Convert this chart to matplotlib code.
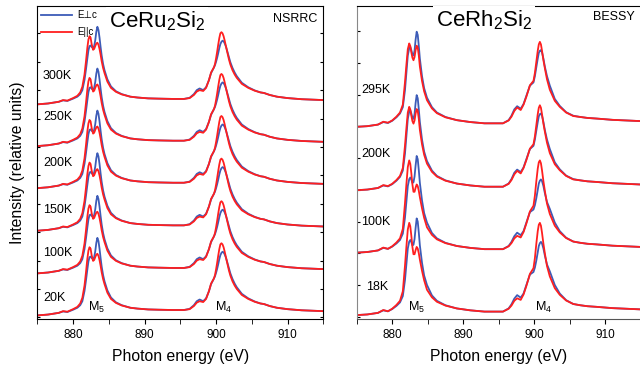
import matplotlib
matplotlib.use('Agg')
import matplotlib.pyplot as plt
from matplotlib.ticker import MultipleLocator

plt.rcParams['font.family'] = ['Liberation Sans', 'DejaVu Sans']
plt.rcParams['mathtext.fontset'] = 'custom'
plt.rcParams['mathtext.rm'] = 'Liberation Sans'
plt.rcParams['mathtext.it'] = 'Liberation Sans:italic'

# --- CeRu2Si2 (NSRRC) ---
ru_temps = ['300K', '250K', '200K', '150K', '100K', '20K']
ru_offsets = [7.50, 6.03, 4.55, 3.05, 1.55, 0.07]
ru_label_y = [8.50, 7.05, 5.43, 3.78, 2.28, 0.67]

ru_energy = [875, 876.5, 878, 878.6, 879.2, 880, 880.6, 881.0, 881.3,
             881.6, 881.8, 882.0, 882.15, 882.3, 882.45, 882.6, 882.8, 882.95, 883.1,
             883.25, 883.4, 883.55, 883.7, 883.85, 884.0, 884.2, 884.4, 884.8, 885.3,
             886, 886.8, 888, 889, 890.5, 892, 894, 895.5, 896.3, 896.9,
             897.3, 897.7, 898.2, 898.6, 899.0, 899.3, 899.7, 899.85, 900.0, 900.15,
             900.3, 900.45, 900.6, 900.75, 900.9, 901.05, 901.2, 901.4, 901.6, 901.8,
             902.0, 902.3, 902.6, 902.9, 903.6, 904.5, 905.4, 906.2, 906.7, 907.5,
             908.5, 910, 912, 915]
ru_perp = [0, 0.03, 0.09, 0.14, 0.12, 0.20, 0.27, 0.36, 0.50,
           0.86, 1.22, 1.62, 1.90, 2.05, 2.07, 2.02, 1.98, 2.05, 2.25,
           2.55, 2.73, 2.62, 2.35, 2.02, 1.72, 1.42, 1.20, 0.88, 0.63,
           0.46, 0.36, 0.27, 0.24, 0.21, 0.20, 0.19, 0.19, 0.23, 0.36,
           0.50, 0.56, 0.50, 0.60, 0.85, 1.10, 1.30, 1.38, 1.50, 1.64,
           1.80, 1.98, 2.12, 2.20, 2.24, 2.22, 2.15, 2.02, 1.84, 1.66,
           1.48, 1.28, 1.12, 0.99, 0.76, 0.60, 0.49, 0.42, 0.40, 0.33,
           0.27, 0.22, 0.18, 0.15]
ru_para = [0, 0.03, 0.09, 0.15, 0.13, 0.22, 0.30, 0.42, 0.62,
           1.05, 1.50, 2.00, 2.28, 2.40, 2.35, 2.12, 1.92, 1.95, 2.05,
           2.14, 2.17, 2.10, 1.95, 1.75, 1.52, 1.28, 1.10, 0.80, 0.58,
           0.44, 0.35, 0.27, 0.24, 0.21, 0.20, 0.19, 0.19, 0.22, 0.33,
           0.45, 0.50, 0.47, 0.58, 0.85, 1.12, 1.30, 1.42, 1.62, 1.85,
           2.10, 2.33, 2.50, 2.54, 2.50, 2.40, 2.25, 2.02, 1.80, 1.58,
           1.40, 1.20, 1.05, 0.93, 0.72, 0.58, 0.48, 0.42, 0.40, 0.33,
           0.27, 0.22, 0.18, 0.15]

# --- CeRh2Si2 (BESSY) ---
rh_temps = ['295K', '200K', '100K', '18K']
rh_offsets = [5.99, 3.99, 2.02, 0.05]
rh_label_y = [7.15, 5.12, 3.00, 0.95]

rh_energy = [875, 876.5, 878, 878.75, 879.4, 880, 880.6, 881.1, 881.5, 881.8,
             882.0, 882.2, 882.4, 882.55, 882.7, 882.85, 883.0, 883.15, 883.3, 883.45,
             883.6, 883.75, 883.9, 884.2, 884.5, 884.9, 885.6, 886.3, 887.5, 889.1,
             891, 893, 895.6, 896.4, 896.8, 897.2, 897.6, 898.1, 898.5, 898.9,
             899.4, 899.9, 900.1, 900.3, 900.5, 900.65, 900.8, 900.95, 901.1, 901.3,
             901.5, 901.8, 902.2, 902.9, 903.6, 904.5, 905.5, 906.5, 907.5, 908.8,
             911, 915]
# high temperature spectra (295K, 200K)
rh_perp_hot = [0, 0.02, 0.07, 0.15, 0.12, 0.19, 0.30, 0.42, 0.62, 1.15,
               1.70, 2.25, 2.48, 2.52, 2.42, 2.28, 2.25, 2.40, 2.75, 3.00,
               2.90, 2.55, 2.15, 1.60, 1.22, 0.92, 0.62, 0.45, 0.31, 0.21,
               0.15, 0.11, 0.11, 0.21, 0.35, 0.55, 0.65, 0.57, 0.72, 0.98,
               1.30, 1.40, 1.60, 1.88, 2.15, 2.33, 2.40, 2.42, 2.35, 2.15,
               1.90, 1.60, 1.30, 0.88, 0.66, 0.46, 0.35, 0.31, 0.28, 0.26,
               0.22, 0.18]
rh_para_hot = [0, 0.02, 0.07, 0.16, 0.13, 0.20, 0.32, 0.45, 0.70, 1.40,
               1.95, 2.45, 2.63, 2.55, 2.35, 2.18, 2.10, 2.20, 2.42, 2.56,
               2.50, 2.25, 1.90, 1.45, 1.12, 0.84, 0.58, 0.43, 0.30, 0.21,
               0.15, 0.11, 0.11, 0.20, 0.32, 0.50, 0.61, 0.53, 0.70, 0.95,
               1.31, 1.45, 1.70, 2.05, 2.40, 2.60, 2.68, 2.60, 2.40, 2.10,
               1.85, 1.50, 1.17, 0.82, 0.63, 0.45, 0.34, 0.31, 0.28, 0.26,
               0.22, 0.18]
# low temperature spectra (100K, 18K)
rh_perp_cold = [0, 0.02, 0.07, 0.15, 0.12, 0.19, 0.29, 0.40, 0.60, 1.10,
                1.60, 2.10, 2.32, 2.37, 2.30, 2.20, 2.22, 2.40, 2.75, 3.05,
                2.95, 2.60, 2.20, 1.65, 1.25, 0.95, 0.62, 0.45, 0.31, 0.21,
                0.15, 0.11, 0.11, 0.21, 0.34, 0.52, 0.63, 0.55, 0.68, 0.95,
                1.28, 1.36, 1.50, 1.72, 1.98, 2.18, 2.27, 2.31, 2.26, 2.10,
                1.88, 1.60, 1.38, 0.95, 0.68, 0.47, 0.35, 0.31, 0.28, 0.26,
                0.22, 0.18]
rh_para_cold = [0, 0.02, 0.07, 0.16, 0.12, 0.20, 0.32, 0.45, 0.75, 1.55,
                2.15, 2.70, 2.91, 2.80, 2.50, 2.15, 1.92, 1.92, 2.05, 2.15,
                2.10, 1.95, 1.75, 1.40, 1.10, 0.80, 0.56, 0.42, 0.30, 0.21,
                0.15, 0.11, 0.11, 0.20, 0.30, 0.45, 0.53, 0.48, 0.65, 0.92,
                1.30, 1.48, 1.80, 2.25, 2.65, 2.85, 2.91, 2.82, 2.60, 2.25,
                1.95, 1.55, 1.22, 0.85, 0.64, 0.46, 0.35, 0.31, 0.28, 0.26,
                0.22, 0.18]
rh_perp = [rh_perp_hot, rh_perp_hot, rh_perp_cold, rh_perp_cold]
rh_para = [rh_para_hot, rh_para_hot, rh_para_cold, rh_para_cold]

blue = '#3d5cb8'
red = '#ff1f1f'

fig = plt.figure(figsize=(6.4, 3.73), dpi=100)
ax1 = fig.add_axes([0.0583, 0.1448, 0.4469, 0.839])
ax2 = fig.add_axes([0.5573, 0.1448, 0.4438, 0.839])

# left panel
for off in ru_offsets:
    lb, = ax1.plot(ru_energy, [v + off for v in ru_perp], color=blue, lw=1.3)
    lr, = ax1.plot(ru_energy, [v + off for v in ru_para], color=red, lw=1.3)
for t, y in zip(ru_temps, ru_label_y):
    ax1.text(875.8, y, t, fontsize=9, va='center')
ax1.legend([lb, lr], ['E\u22a5c', 'E||c'], loc='upper left', frameon=False, fontsize=7,
           handlelength=3.2, handletextpad=0.5, labelspacing=0.75,
           borderaxespad=0.3, borderpad=0.1)
ax1.text(891.7, 10.42, 'CeRu$_2$Si$_2$', fontsize=16, ha='center', va='center',
         bbox=dict(facecolor='white', edgecolor='none', pad=2))
ax1.text(914.2, 10.5, 'NSRRC', fontsize=9, ha='right', va='center')
ax1.text(882.1, 0.35, 'M$_5$', fontsize=9, ha='left', va='center')
ax1.text(899.8, 0.35, 'M$_4$', fontsize=9, ha='left', va='center')
ax1.set_ylim(-0.056, 10.96)
ax1.set_yticks(range(0, 11))
ax1.tick_params(axis='y', direction='in', left=True, right=True, labelleft=False, length=2.5)

# right panel
for off, bp, rp in zip(rh_offsets, rh_perp, rh_para):
    ax2.plot(rh_energy, [v + off for v in bp], color=blue, lw=1.3)
    ax2.plot(rh_energy, [v + off for v in rp], color=red, lw=1.3)
for t, y in zip(rh_temps, rh_label_y):
    ax2.text(875.6 if len(t) > 3 else 876.3, y, t, fontsize=9, va='center')
ax2.text(892.9, 9.35, 'CeRh$_2$Si$_2$', fontsize=16, ha='center', va='center',
         bbox=dict(facecolor='white', edgecolor='none', pad=2))
ax2.text(914.1, 9.45, 'BESSY', fontsize=9, ha='right', va='center')
ax2.text(882.2, 0.3, 'M$_5$', fontsize=9, ha='left', va='center')
ax2.text(900.1, 0.3, 'M$_4$', fontsize=9, ha='left', va='center')
ax2.set_ylim(-0.073, 9.8)
ax2.set_yticks(range(0, 10))
ax2.tick_params(axis='y', direction='in', left=True, right=False, labelleft=False, length=2.5)
ax2.spines['left'].set_color('#888888')
ax2.spines['bottom'].set_color('#555555')
ax2.spines['right'].set_visible(False)

for ax in (ax1, ax2):
    ax.set_xlim(875, 915)
    ax.xaxis.set_major_locator(MultipleLocator(10))
    ax.xaxis.set_minor_locator(MultipleLocator(5))
    ax.tick_params(axis='x', which='both', direction='out', length=3.5, labelsize=8.5)
    ax.set_xlabel('Photon energy (eV)', fontsize=11.3, labelpad=6)

ax1.set_ylabel('Intensity (relative units)', fontsize=11.3, labelpad=9)

fig.savefig('out.png', dpi=100)
